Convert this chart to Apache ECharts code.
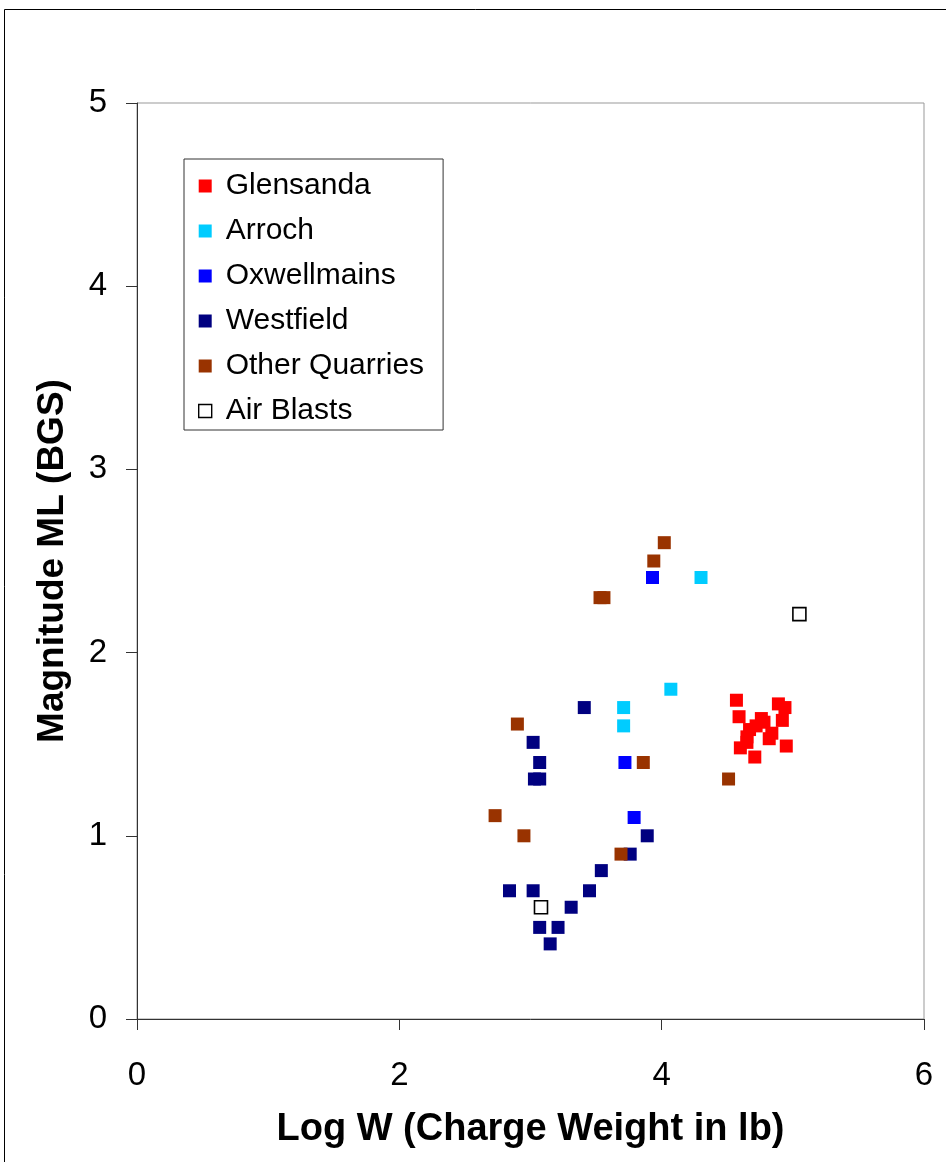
<!DOCTYPE html>
<html>
<head>
<meta charset="utf-8">
<script src="https://cdn.jsdelivr.net/npm/echarts@6/dist/echarts.min.js"></script>
<style>
  html, body { margin: 0; padding: 0; background: #fff; }
  #chart { width: 946px; height: 1162px; }
</style>
</head>
<body>
<div id="chart"></div>
<script>
// Blast magnitude (ML, BGS) against log charge weight, by source
const seriesNames = ['Glensanda', 'Arroch', 'Oxwellmains', 'Westfield', 'Other Quarries', 'Air Blasts'];

const glensanda = [
  [4.57, 1.74], [4.59, 1.65], [4.89, 1.72], [4.94, 1.70], [4.76, 1.64], [4.78, 1.62],
  [4.92, 1.63], [4.67, 1.58], [4.72, 1.60], [4.65, 1.54], [4.84, 1.56], [4.82, 1.53],
  [4.60, 1.48], [4.65, 1.51], [4.71, 1.43], [4.95, 1.49]
];
const arroch = [[4.30, 2.41], [4.07, 1.80], [3.71, 1.70], [3.71, 1.60]];
const oxwellmains = [[3.93, 2.41], [3.72, 1.40], [3.79, 1.10]];
const westfield = [
  [3.41, 1.70], [3.02, 1.51], [3.07, 1.40], [3.03, 1.31], [3.07, 1.31], [3.89, 1.00],
  [3.76, 0.90], [3.54, 0.81], [2.84, 0.70], [3.02, 0.70], [3.45, 0.70], [3.31, 0.61],
  [3.07, 0.50], [3.21, 0.50], [3.15, 0.41]
];
const otherQuarries = [
  [4.02, 2.60], [3.94, 2.50], [3.53, 2.30], [3.56, 2.30], [2.90, 1.61], [3.86, 1.40],
  [4.51, 1.31], [2.73, 1.11], [2.95, 1.00], [3.69, 0.90]
];
const airBlasts = [[5.05, 2.21], [3.08, 0.61]];

const seriesData = [glensanda, arroch, oxwellmains, westfield, otherQuarries, airBlasts];
const seriesColors = ['#FF0000', '#00CCFF', '#0000FF', '#000080', '#993300', '#FFFFFF'];

const FONT = '"Liberation Sans", Arial, sans-serif';

const chart = echarts.init(document.getElementById('chart'), null, { renderer: 'canvas' });

const series = seriesNames.map((name, i) => ({
  name: name,
  type: 'scatter',
  symbol: 'rect',
  symbolSize: 13,
  data: seriesData[i],
  itemStyle: i === 5
    ? { color: '#FFFFFF', borderColor: '#000000', borderWidth: 1.6, opacity: 1 }
    : { color: seriesColors[i], borderWidth: 0, opacity: 1 },
  emphasis: { disabled: true },
  z: 3 + i
}));

chart.setOption({
  animation: false,
  backgroundColor: '#FFFFFF',
  graphic: [{
    type: 'rect',
    shape: { x: 4.5, y: 9.5, width: 1000, height: 1200 },
    style: { fill: null, stroke: '#000000', lineWidth: 1 },
    silent: true
  }],
  grid: {
    left: 137, top: 103, right: 22, bottom: 143,
    show: true, borderColor: '#999999', borderWidth: 1, backgroundColor: 'transparent'
  },
  legend: {
    orient: 'vertical',
    left: 184, top: 159,
    padding: [12, 19, 4, 14],
    itemGap: 15,
    itemWidth: 13, itemHeight: 13,
    borderColor: '#333333', borderWidth: 1,
    backgroundColor: '#FFFFFF',
    data: seriesNames.map((n, i) => ({
      name: n,
      icon: 'rect',
      itemStyle: i === 5
        ? { color: '#FFFFFF', borderColor: '#000000', borderWidth: 1.4, opacity: 1 }
        : { color: seriesColors[i], opacity: 1 }
    })),
    textStyle: { fontFamily: FONT, fontSize: 30, color: '#000000', lineHeight: 30, padding: [0, 0, 0, 9] }
  },
  xAxis: {
    type: 'value', min: 0, max: 6, interval: 2,
    name: 'Log W (Charge Weight in lb)',
    nameLocation: 'middle', nameGap: 92,
    nameTextStyle: { fontFamily: FONT, fontSize: 38, fontWeight: 'bold', color: '#000000' },
    axisLine: { show: true, onZero: false, lineStyle: { color: '#333333', width: 1 } },
    axisTick: { show: true, inside: false, length: 11, lineStyle: { color: '#333333' } },
    axisLabel: { fontFamily: FONT, fontSize: 33, color: '#000000', margin: 40 },
    splitLine: { show: false }
  },
  yAxis: {
    type: 'value', min: 0, max: 5, interval: 1,
    name: 'Magnitude ML (BGS)',
    nameLocation: 'middle', nameGap: 66, nameRotate: 90,
    nameTextStyle: { fontFamily: FONT, fontSize: 37, fontWeight: 'bold', color: '#000000' },
    axisLine: { show: true, onZero: false, lineStyle: { color: '#333333', width: 1 } },
    axisTick: { show: true, inside: false, length: 11, lineStyle: { color: '#333333' } },
    axisLabel: { fontFamily: FONT, fontSize: 33, color: '#000000', margin: 30 },
    splitLine: { show: false }
  },
  series: series
});
</script>
</body>
</html>
